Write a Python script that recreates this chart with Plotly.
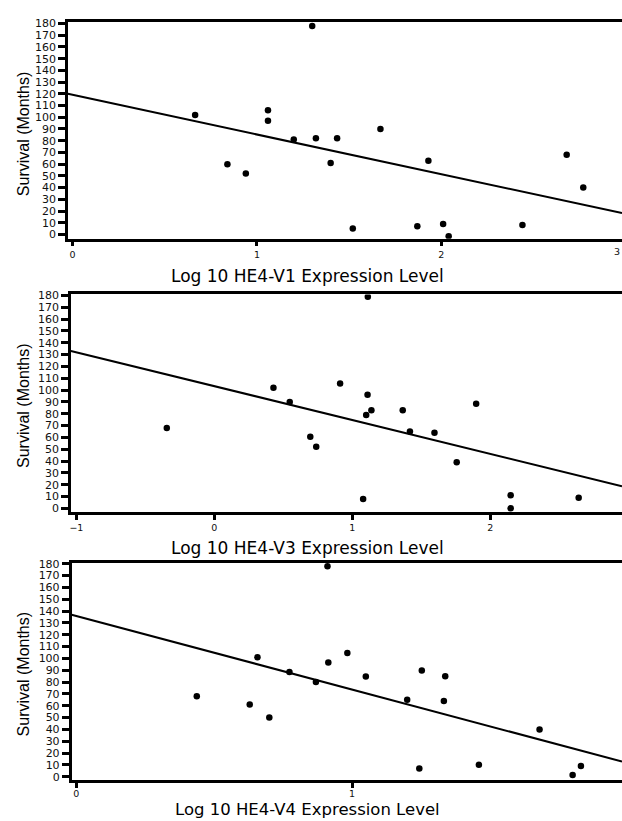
import plotly.graph_objects as go

# ---------------- data ----------------
v1_x = [0.665, 0.84, 0.94, 1.06, 1.06, 1.20, 1.30, 1.32, 1.40, 1.435, 1.52, 1.67, 1.87, 1.93, 2.01, 2.04, 2.44, 2.68, 2.77]
v1_y = [102, 60, 52, 106, 97, 81, 178, 82, 61, 82, 5, 90, 7, 63, 9, -1.5, 8, 68, 40]
v1_fit = (119.2, -33.9)   # intercept, slope

v3_x = [-0.345, 0.428, 0.546, 0.695, 0.738, 0.911, 1.078, 1.10, 1.11, 1.112, 1.138, 1.365, 1.417, 1.595, 1.756, 1.897, 2.147, 2.147, 2.64]
v3_y = [68, 102, 90, 60.5, 52, 105.5, 8, 79, 96, 179, 83, 83, 65, 64, 39, 88.5, 11, 0, 9]
v3_fit = (103.3, -28.66)

v4_x = [0.437, 0.629, 0.657, 0.70, 0.773, 0.869, 0.911, 0.914, 0.983, 1.05, 1.20, 1.244, 1.253, 1.333, 1.338, 1.46, 1.68, 1.80, 1.83]
v4_y = [68, 61, 101, 50, 88.6, 80, 178, 96.5, 104.6, 84.7, 65, 7, 89.7, 64, 85, 10, 40, 1.4, 9]
v4_fit = (135.9, -62.2)

x_titles = ["Log 10 HE4-V1 Expression Level", "Log 10 HE4-V3 Expression Level", "Log 10 HE4-V4 Expression Level"]
y_title = "Survival (Months)"
y_ticks = list(range(0, 190, 10))
x_ticks = [[0, 1, 2], [-1, 0, 1, 2], [0, 1]]
edge_tick_v1 = 3   # tick label at the right edge of the first panel

# ---------------- layout geometry (pixels) ----------------
W, H = 622, 821
panels = [
    dict(x=v1_x, y=v1_y, fit=v1_fit, left=67, top=16.7, bottom=236.0, xr=[-0.025, 2.98], yr=[-3.63, 181.7],
         title_y=274, ytitle_y=130.5, standoff=0),
    dict(x=v3_x, y=v3_y, fit=v3_fit, left=70, top=292.3, bottom=512.3, xr=[-1.040, 2.954], yr=[-3.35, 180.84],
         title_y=548, ytitle_y=405, standoff=0),
    dict(x=v4_x, y=v4_y, fit=v4_fit, left=70.7, top=563.3, bottom=782.7, xr=[-0.017, 1.979], yr=[-2.85, 180.84],
         title_y=812.5, ytitle_y=676, standoff=-2),
]

TICKFONT_Y = dict(family="DejaVu Sans", size=11, color="#111")
TICKFONT_X = dict(family="DejaVu Sans", size=9.5, color="#111")
TITLEFONT = dict(family="DejaVu Sans", size=17, color="#000")
TITLEFONT3 = dict(family="DejaVu Sans", size=16.5, color="#000")
YTITLEFONT = dict(family="Liberation Sans, Arial", size=16, color="#000")

fig = go.Figure()
annotations = []
layout = dict(width=W, height=H, margin=dict(l=0, r=0, t=0, b=0),
              paper_bgcolor="white", plot_bgcolor="white", showlegend=False)

for i, p in enumerate(panels, start=1):
    xa = "x" if i == 1 else f"x{i}"
    ya = "y" if i == 1 else f"y{i}"
    fig.add_trace(go.Scatter(x=p["x"], y=p["y"], mode="markers", xaxis=xa, yaxis=ya,
                             marker=dict(color="black", size=6.5)))
    b0, b1 = p["fit"]
    lx = list(p["xr"])
    ly = [b0 + b1 * v for v in lx]
    fig.add_trace(go.Scatter(x=lx, y=ly, mode="lines", xaxis=xa, yaxis=ya,
                             line=dict(color="black", width=2), cliponaxis=True))

    xkey = "xaxis" if i == 1 else f"xaxis{i}"
    ykey = "yaxis" if i == 1 else f"yaxis{i}"
    layout[xkey] = dict(domain=[p["left"] / W, 1], range=p["xr"], anchor=ya,
                        tickvals=x_ticks[i - 1], ticks="outside", ticklen=5, tickwidth=3, tickcolor="black",
                        showline=True, linecolor="black", linewidth=2.5, mirror=True,
                        ticklabelstandoff=p["standoff"],
                        showgrid=False, zeroline=False, tickfont=TICKFONT_X)
    layout[ykey] = dict(domain=[1 - p["bottom"] / H, 1 - p["top"] / H], range=p["yr"], anchor=xa,
                        tickvals=y_ticks, ticks="outside", ticklen=7, tickwidth=3, tickcolor="black",
                        showline=True, linecolor="black", linewidth=2.5,
                        showgrid=False, zeroline=False, tickfont=TICKFONT_Y)
    annotations.append(dict(text=x_titles[i - 1], xref="paper", yref="paper",
                            x=307 / W, y=1 - p["title_y"] / H, xanchor="center", yanchor="middle",
                            showarrow=False, font=TITLEFONT if i < 3 else TITLEFONT3))
    annotations.append(dict(text=y_title, xref="paper", yref="paper", textangle=-90,
                            x=22 / W, y=1 - p["ytitle_y"] / H, xanchor="center", yanchor="middle",
                            showarrow=False, font=YTITLEFONT))

# tick label "3" of the first panel sits at the right edge of the figure
annotations.append(dict(text=str(edge_tick_v1), xref="paper", yref="paper", x=1.0,
                        y=1 - 248.5 / H, xanchor="right", yanchor="middle",
                        showarrow=False, font=TICKFONT_X))

layout["annotations"] = annotations
fig.update_layout(**layout)
fig.write_html("out.html")
